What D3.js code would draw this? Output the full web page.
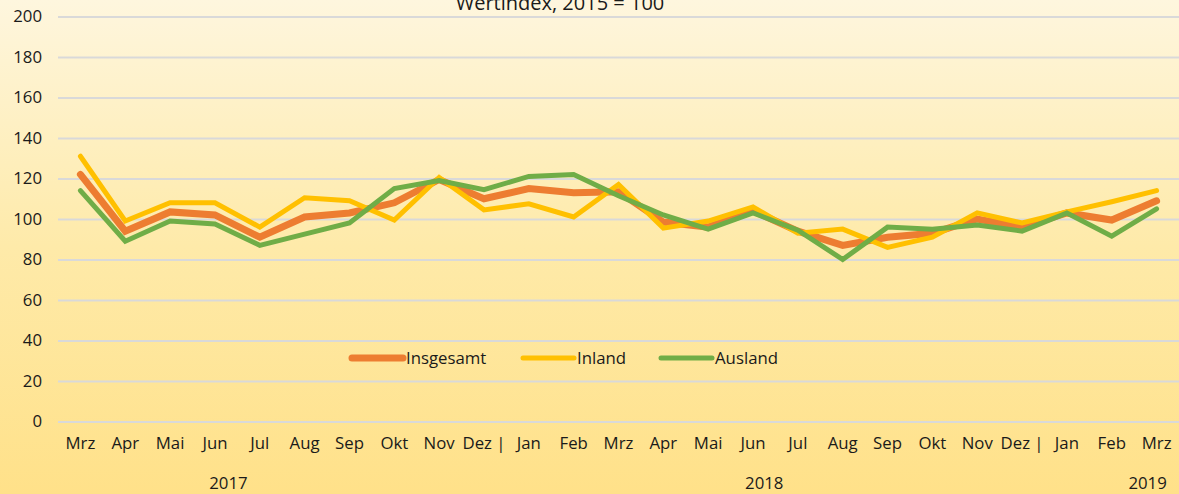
<!DOCTYPE html>
<html>
<head>
    <meta charset="utf-8">
    <title></title>
    <style>
        body { margin: 0; }
        text { font-family: "Open Sans", sans-serif; fill: #1a1a1a; }
    </style>
</head>
<body>
<script src="https://d3js.org/d3.v7.min.js"></script>
<script type="text/javascript">

    var months = ['Mrz', 'Apr', 'Mai', 'Jun', 'Jul', 'Aug', 'Sep', 'Okt', 'Nov', 'Dez |',
                  'Jan', 'Feb', 'Mrz', 'Apr', 'Mai', 'Jun', 'Jul', 'Aug', 'Sep', 'Okt', 'Nov', 'Dez |',
                  'Jan', 'Feb', 'Mrz'];
    var years = ['2017', '2018', '2019'];
    var yearPos = [3.3, 15.25, 23.8];   // position in category units

    var insgesamt = [122, 94, 103.5, 102, 91, 101, 103, 108, 119.5, 110, 115, 113, 113.5,
                     98.5, 96, 104, 94, 87, 91, 93, 100, 96, 103, 99.5, 109];
    var inland    = [131, 99, 108, 108, 96, 110.5, 109, 99.5, 120.5, 104.5, 107.5, 101, 117,
                     95.5, 99, 106, 93, 95, 86, 91, 103, 98, 103.5, 108.5, 114];
    var ausland   = [114, 89, 99, 97.5, 87, 92.5, 98, 115, 119, 114.5, 121, 122, 111.5,
                     102, 95, 103, 94.5, 80, 96, 95, 97, 94, 103, 91.5, 105];

    var yTicks = [0, 20, 40, 60, 80, 100, 120, 140, 160, 180, 200];
    var seriesNames = ['Insgesamt', 'Inland', 'Ausland'];
    var seriesColors = ['#ED7D31', '#FFC000', '#70AD47'];
    var seriesWidths = [7, 5, 5];
    var title = 'Wertindex, 2015 = 100';

    var width = 1179, height = 494;
    var plotLeft = 58, plotRight = 1179, plotTop = 16.5, plotBottom = 421.5;
    var fs = 16.8;

    var svg = d3.select('body').append('svg')
        .attr('width', width)
        .attr('height', height);

    var grad = svg.append('defs').append('linearGradient')
        .attr('id', 'bg').attr('x1', 0).attr('y1', 0).attr('x2', 0).attr('y2', 1);
    grad.append('stop').attr('offset', '0%').attr('stop-color', '#fef6de');
    grad.append('stop').attr('offset', '50%').attr('stop-color', '#feeaa9');
    grad.append('stop').attr('offset', '100%').attr('stop-color', '#ffe189');

    svg.append('rect')
        .attr('width', width).attr('height', height)
        .attr('fill', 'url(#bg)');

    var x = d3.scaleBand()
        .domain(d3.range(months.length))
        .range([plotLeft, plotRight]);

    var y = d3.scaleLinear()
        .domain([0, 200])
        .range([plotBottom, plotTop]);

    // y axis + grid
    var yAxis = d3.axisLeft(y)
        .tickValues(yTicks)
        .tickSize(-(plotRight - plotLeft))
        .tickPadding(16);

    var gy = svg.append('g')
        .attr('transform', 'translate(' + plotLeft + ',0)')
        .call(yAxis);
    gy.select('.domain').remove();
    gy.selectAll('line').attr('stroke', '#d9d9d9').attr('stroke-width', 2);
    gy.selectAll('text').attr('font-size', fs).attr('fill', '#1a1a1a')
        .style('font-family', '"Open Sans", sans-serif');

    // x axis
    var xAxis = d3.axisBottom(x)
        .tickSize(0)
        .tickPadding(16)
        .tickFormat(function(i) { return months[i]; });

    var gx = svg.append('g')
        .attr('transform', 'translate(0,' + plotBottom + ')')
        .call(xAxis);
    gx.select('.domain').remove();
    gx.selectAll('text').attr('font-size', fs).attr('fill', '#1a1a1a')
        .style('font-family', '"Open Sans", sans-serif');

    var cx = function(i) { return x(i) + x.bandwidth() / 2; };

    svg.selectAll('.year')
        .data(years)
        .enter().append('text')
        .attr('class', 'year')
        .attr('x', function(d, i) { return cx(0) + yearPos[i] * x.step(); })
        .attr('y', 489)
        .attr('text-anchor', 'middle')
        .attr('font-size', fs)
        .text(function(d) { return d; });

    // lines
    var line = d3.line()
        .x(function(d, i) { return cx(i); })
        .y(function(d) { return y(d); });

    var series = [insgesamt, inland, ausland];
    svg.selectAll('.series')
        .data(series)
        .enter().append('path')
        .attr('class', 'series')
        .attr('d', line)
        .attr('fill', 'none')
        .attr('stroke', function(d, i) { return seriesColors[i]; })
        .attr('stroke-width', function(d, i) { return seriesWidths[i]; })
        .attr('stroke-linejoin', 'miter')
        .attr('stroke-linecap', 'round');

    // legend
    var legendX = [352, 523, 661];
    var legY = 358;
    var leg = svg.selectAll('.leg')
        .data(seriesNames)
        .enter().append('g')
        .attr('class', 'leg')
        .attr('transform', function(d, i) { return 'translate(' + legendX[i] + ',' + legY + ')'; });
    leg.append('line')
        .attr('x1', 0).attr('x2', 51)
        .attr('stroke', function(d, i) { return seriesColors[i]; })
        .attr('stroke-width', function(d, i) { return seriesWidths[i]; })
        .attr('stroke-linecap', 'round');
    leg.append('text')
        .attr('x', 54)
        .attr('dy', '0.35em')
        .attr('font-size', fs)
        .text(function(d) { return d; });

    // title
    svg.append('text')
        .attr('x', 560)
        .attr('y', 10)
        .attr('text-anchor', 'middle')
        .attr('font-size', 20)
        .text(title);

</script>
</body>
</html>
